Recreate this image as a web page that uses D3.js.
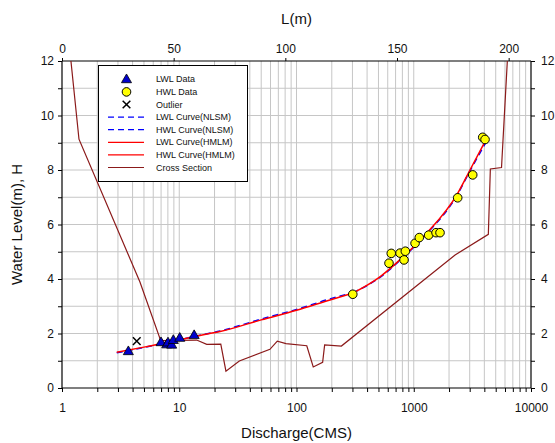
<!DOCTYPE html>
<html>
<head>
<meta charset="utf-8">
<script src="https://cdn.jsdelivr.net/npm/d3@7"></script>
<style>
  html, body { margin: 0; padding: 0; background: #fff; }
  svg { display: block; font-family: "Liberation Sans", Arial, sans-serif; }
</style>
</head>
<body>
<svg id="chart" width="555" height="443"></svg>
<script>
// ---------- data ----------
const lwlQ = [3.68, 6.99, 7.82, 8.02, 8.62, 8.90, 10.1, 13.4];
const lwlH = [1.33, 1.66, 1.58, 1.65, 1.57, 1.74, 1.82, 1.92];

const hwlQ = [302, 615, 643, 764, 826, 848, 1026, 1115, 1340, 1549, 1675, 2370, 3184, 3875, 4055];
const hwlH = [3.44, 4.58, 4.94, 4.95, 4.70, 5.02, 5.31, 5.52, 5.61, 5.70, 5.70, 6.98, 7.82, 9.20, 9.12];

const outlierQ = [4.34];
const outlierH = [1.72];

const lwlCurveQ = [2.93, 5, 10, 15, 22.3, 50, 100, 193, 302];
const lwlCurveH = [1.31, 1.50, 1.77, 1.93, 2.07, 2.50, 2.85, 3.23, 3.48];
const hwlCurveQ = [302, 515, 815, 1289, 2323, 3018, 4190];
const hwlCurveH = [3.48, 4.08, 4.82, 5.68, 7.08, 8.00, 9.16];

const lwlNlsmQ = [2.93, 5, 10, 15, 22.3, 50, 100, 193, 302];
const lwlNlsmH = [1.29, 1.49, 1.77, 1.94, 2.09, 2.53, 2.88, 3.27, 3.49];
const hwlNlsmQ = [302, 515, 815, 1289, 2323, 3018, 4290];
const hwlNlsmH = [3.49, 4.06, 4.80, 5.66, 7.05, 7.97, 9.14];

const sectionL = [4.0, 7.6, 34.9, 44.2, 60.3, 64.8, 71.1, 73.4, 79.4, 93.1, 96.4, 100.3, 109.6, 112.5, 116.7, 117.6, 125.1, 176.0, 190.9, 191.8, 196.8, 199.4];
const sectionH = [12.0, 9.13, 3.89, 1.74, 1.76, 1.60, 1.61, 0.62, 0.99, 1.42, 1.72, 1.63, 1.55, 0.77, 0.94, 1.58, 1.54, 4.88, 5.64, 8.04, 8.09, 12.0];

const qTickLabels = [1, 10, 100, 1000, 10000];
const hTickLabels = [0, 2, 4, 6, 8, 10, 12];
const lTickLabels = [0, 50, 100, 150, 200];

const legendLabels = ["LWL Data", "HWL Data", "Outlier", "LWL Curve(NLSM)", "HWL Curve(NLSM)", "LWL Curve(HMLM)", "HWL Curve(HMLM)", "Cross Section"];

// ---------- layout ----------
const PL = 62, PR = 531, PT = 61, PB = 388;
const svg = d3.select("#chart");

const x = d3.scaleLog().domain([1, 10000]).range([PL, PR]);
const y = d3.scaleLinear().domain([0, 12]).range([PB, PT]);
const xL = d3.scaleLinear().domain([0, 210]).range([PL, PR]);

const gridGray = "#c6c6c6";
const secColor = "#8b1a1a";

// grid
const minorQ = [];
for (let d = 0; d < 4; d++) for (let k = 1; k <= 9; k++) minorQ.push(k * Math.pow(10, d));
minorQ.push(10000);
const gridG = svg.append("g");
gridG.selectAll("line.v").data(minorQ.filter(q => q > 1 && q < 10000)).join("line")
  .attr("x1", d => x(d)).attr("x2", d => x(d)).attr("y1", PT).attr("y2", PB)
  .attr("stroke", gridGray).attr("stroke-width", 1);
gridG.selectAll("line.h").data(d3.range(1, 12)).join("line")
  .attr("x1", PL).attr("x2", PR).attr("y1", d => y(d)).attr("y2", d => y(d))
  .attr("stroke", gridGray).attr("stroke-width", 1);

// axes
const fmt = d3.format("d");
const axBottom = svg.append("g").attr("transform", `translate(0,${PB})`)
  .call(d3.axisBottom(x).tickValues(minorQ).tickSize(4).tickFormat(d => qTickLabels.includes(d) ? fmt(d) : ""));
const axLeft = svg.append("g").attr("transform", `translate(${PL},0)`)
  .call(d3.axisLeft(y).tickValues(d3.range(0, 13)).tickSize(4).tickFormat(d => hTickLabels.includes(d) ? d : ""));
const axRight = svg.append("g").attr("transform", `translate(${PR},0)`)
  .call(d3.axisRight(y).tickValues(d3.range(0, 13)).tickSize(4).tickFormat(d => hTickLabels.includes(d) ? d : ""));
const axTop = svg.append("g").attr("transform", `translate(0,${PT})`)
  .call(d3.axisTop(xL).tickValues(lTickLabels).tickSize(3).tickFormat(fmt));

[axBottom, axLeft, axRight, axTop].forEach(g => {
  g.select(".domain").attr("stroke", "#000").attr("stroke-width", 1.2);
  g.selectAll(".tick line").attr("stroke", "#000");
  g.selectAll(".tick text").attr("font-size", 12).attr("fill", "#111").attr("font-family", "Liberation Sans, Arial, sans-serif");
});
axBottom.selectAll(".tick text").attr("dy", "1.4em");
axLeft.selectAll(".tick text").attr("x", -8);
axRight.selectAll(".tick text").attr("x", 10);
axTop.selectAll(".tick text").attr("y", -8);
axBottom.select(".domain").attr("d", `M${PL},0H${PR}`);
axTop.select(".domain").attr("d", `M${PL},0H${PR}`);
axLeft.select(".domain").attr("d", `M0,${PT}V${PB}`);
axRight.select(".domain").attr("d", `M0,${PT}V${PB}`);

// titles
svg.append("text").attr("x", (PL + PR) / 2).attr("y", 438).attr("text-anchor", "middle")
  .attr("font-size", 15).attr("fill", "#111").text("Discharge(CMS)");
svg.append("text").attr("x", (PL + PR) / 2).attr("y", 24).attr("text-anchor", "middle")
  .attr("font-size", 15).attr("fill", "#111").text("L(m)");
svg.append("text").attr("transform", `translate(22,${(PT + PB) / 2}) rotate(-90)`).attr("text-anchor", "middle")
  .attr("font-size", 15).attr("fill", "#111").text("Water Level(m),  H");

// clip
svg.append("clipPath").attr("id", "clip").append("rect")
  .attr("x", PL).attr("y", PT).attr("width", PR - PL).attr("height", PB - PT);
const plot = svg.append("g").attr("clip-path", "url(#clip)");

// cross section
const secLine = d3.line().x((d, i) => xL(sectionL[i])).y((d, i) => y(sectionH[i]));
plot.append("path").attr("d", secLine(sectionL)).attr("fill", "none")
  .attr("stroke", secColor).attr("stroke-width", 1.2);

// curves
function curvePath(Q, H) {
  return d3.line().x((d, i) => x(Q[i])).y((d, i) => y(H[i])).curve(d3.curveMonotoneX)(Q);
}
plot.append("path").attr("d", curvePath(lwlNlsmQ, lwlNlsmH)).attr("fill", "none")
  .attr("stroke", "#0000ff").attr("stroke-width", 1.5).attr("stroke-dasharray", "6,4");
plot.append("path").attr("d", curvePath(hwlNlsmQ, hwlNlsmH)).attr("fill", "none")
  .attr("stroke", "#0000ff").attr("stroke-width", 1.5).attr("stroke-dasharray", "6,4");
plot.append("path").attr("d", curvePath(lwlCurveQ, lwlCurveH)).attr("fill", "none")
  .attr("stroke", "#ff0000").attr("stroke-width", 1.5);
plot.append("path").attr("d", curvePath(hwlCurveQ, hwlCurveH)).attr("fill", "none")
  .attr("stroke", "#ff0000").attr("stroke-width", 1.5);

// markers
const tri = d3.symbol().type(d3.symbolTriangle).size(44);
plot.selectAll("path.lwl").data(lwlQ).join("path")
  .attr("transform", (d, i) => `translate(${x(d)},${y(lwlH[i])})`)
  .attr("d", tri).attr("fill", "#0000cc").attr("stroke", "#000").attr("stroke-width", 0.8);
plot.selectAll("circle.hwl").data(hwlQ).join("circle")
  .attr("cx", d => x(d)).attr("cy", (d, i) => y(hwlH[i])).attr("r", 4.3)
  .attr("fill", "#ffff00").attr("stroke", "#000").attr("stroke-width", 1);
const cross = d3.symbol().type(d3.symbolX).size(40);
plot.selectAll("path.out").data(outlierQ).join("path")
  .attr("transform", (d, i) => `translate(${x(d)},${y(outlierH[i])})`)
  .attr("d", cross).attr("fill", "none").attr("stroke", "#000").attr("stroke-width", 1.5);

// legend
const lg = svg.append("g");
lg.append("rect").attr("x", 98.5).attr("y", 65.5).attr("width", 149).attr("height", 116)
  .attr("fill", "#fff").attr("stroke", "#000").attr("stroke-width", 1);
const rowY = i => 79.3 + i * 12.6;
legendLabels.forEach((t, i) => {
  lg.append("text").attr("x", 156).attr("y", rowY(i)).attr("dy", "0.35em")
    .attr("font-size", 9).attr("fill", "#111").text(t);
});
lg.append("path").attr("transform", `translate(126.5,${rowY(0) + 0.5})`).attr("d", tri)
  .attr("fill", "#0000cc").attr("stroke", "#000").attr("stroke-width", 0.8);
lg.append("circle").attr("cx", 126.5).attr("cy", rowY(1)).attr("r", 4.3)
  .attr("fill", "#ffff00").attr("stroke", "#000");
lg.append("path").attr("transform", `translate(126.5,${rowY(2)})`).attr("d", cross)
  .attr("fill", "none").attr("stroke", "#000").attr("stroke-width", 1.5);
const legendLines = [
  { stroke: "#0000ff", dash: "6,4" }, { stroke: "#0000ff", dash: "6,4" },
  { stroke: "#ff0000", dash: null }, { stroke: "#ff0000", dash: null },
  { stroke: secColor, dash: null }
];
legendLines.forEach((s, j) => {
  lg.append("line").attr("x1", 108).attr("x2", 144).attr("y1", rowY(j + 3)).attr("y2", rowY(j + 3))
    .attr("stroke", s.stroke).attr("stroke-width", 1.2).attr("stroke-dasharray", s.dash);
});
</script>
</body>
</html>
